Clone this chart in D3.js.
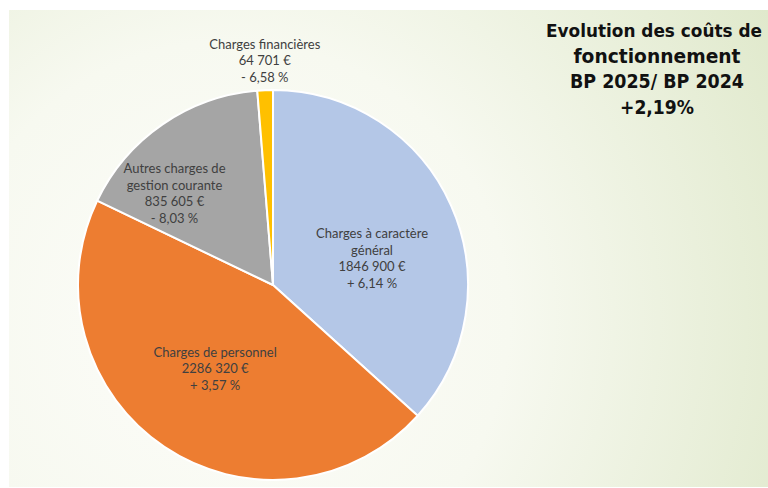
<!DOCTYPE html>
<html><head><meta charset="utf-8">
<script src="https://cdn.jsdelivr.net/npm/d3@7"></script>
<style>html,body{margin:0;padding:0;background:#fff;}svg{display:block;}</style>
</head><body>
<script>
const categories = ["Charges à caractère général", "Charges de personnel", "Autres charges de gestion courante", "Charges financières"];
const values = [1846900, 2286320, 835605, 64701];
const amountLabels = ["1846 900 €", "2286 320 €", "835 605 €", "64 701 €"];
const changeLabels = ["+ 6,14 %", "+ 3,57 %", "- 8,03 %", "- 6,58 %"];
const nameLines = [["Charges à caractère", "général"], ["Charges de personnel"], ["Autres charges de", "gestion courante"], ["Charges financières"]];
const colors = ["#B4C7E7", "#ED7D31", "#A5A5A5", "#FFC000"];
const titleLines = ["Evolution des coûts de", "fonctionnement", "BP 2025/ BP 2024", "+2,19%"];

const W = 768, H = 488;
const svg = d3.select("body").append("svg").attr("width", W).attr("height", H);
const defs = svg.append("defs");
const grad = defs.append("radialGradient").attr("id", "bg")
  .attr("gradientUnits", "userSpaceOnUse").attr("cx", 230).attr("cy", 320).attr("r", 620);
grad.append("stop").attr("offset", "0").attr("stop-color", "#FDFDFA");
grad.append("stop").attr("offset", "0.45").attr("stop-color", "#F7F9F0");
grad.append("stop").attr("offset", "1").attr("stop-color", "#E0E9CC");
svg.append("rect").attr("x", 9).attr("y", 10).attr("width", W - 9).attr("height", H - 11).attr("fill", "url(#bg)");

const cx = 273, cy = 285, R = 195;
const pie = d3.pie().sort(null).value(d => d)(values);
const arc = d3.arc().innerRadius(0).outerRadius(R);
const g = svg.append("g").attr("transform", `translate(${cx},${cy})`);
g.selectAll("path").data(pie).join("path")
  .attr("d", arc).attr("fill", (d, i) => colors[i])
  .attr("stroke", "#fff").attr("stroke-width", 2).attr("stroke-linejoin", "round");

// label anchor points (polar, relative to the pie) plus fine offsets
const labelArc = [d3.arc().innerRadius(R * 0.55).outerRadius(R * 0.55),
                  d3.arc().innerRadius(R * 0.45).outerRadius(R * 0.45),
                  d3.arc().innerRadius(R * 0.62).outerRadius(R * 0.62),
                  d3.arc().innerRadius(R * 1.3).outerRadius(R * 1.3)];
const offsets = [[1, 17], [-9, 11], [-30, 8], [2, 29]];
const lh = 16.7;
pie.forEach((d, i) => {
  const lines = nameLines[i].concat([amountLabels[i], changeLabels[i]]);
  let [x, y] = labelArc[i].centroid(d);
  x += offsets[i][0]; y += offsets[i][1];
  const t = g.append("text").attr("text-anchor", "middle")
    .attr("font-family", "Lato, 'Open Sans', sans-serif").attr("font-size", 13)
    .attr("fill", "#404040");
  const y0 = y - (lines.length - 1) * lh / 2 + 4.5;
  lines.forEach((l, k) => t.append("tspan").attr("x", x).attr("y", y0 + k * lh).text(l));
});

const titleWidths = [216, 167, 174, 74];
const titleX = [654, 657, 657, 657];
const titleSize = [17, 20, 20, 20];
titleLines.forEach((l, k) => {
  svg.append("text").attr("text-anchor", "middle")
    .attr("font-family", "'DejaVu Sans', sans-serif").attr("font-weight", "bold")
    .attr("font-size", titleSize[k]).attr("fill", "#111")
    .attr("x", titleX[k]).attr("y", 37 + k * 25.5)
    .attr("textLength", titleWidths[k]).attr("lengthAdjust", "spacingAndGlyphs")
    .text(l);
});
</script>
</body></html>
